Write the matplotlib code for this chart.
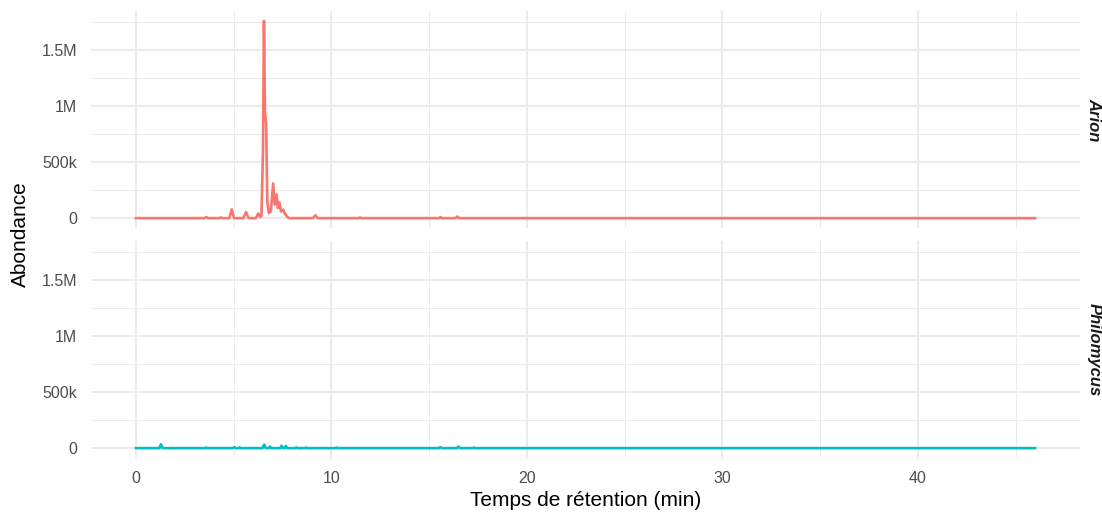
import numpy as np
import matplotlib
matplotlib.use("Agg")
import matplotlib.pyplot as plt
from matplotlib.ticker import MultipleLocator, FixedLocator

plt.rcParams["font.family"] = ["Liberation Sans", "DejaVu Sans"]

# ---------- chromatogram traces (time in min, abundance in counts) ----------
arion_t = [0, 3.5, 3.6, 3.7, 4.25, 4.33, 4.4, 4.78, 4.9, 5.02, 5.5, 5.63, 5.76,
           6.14, 6.26, 6.36, 6.42, 6.5, 6.55, 6.6, 6.66, 6.72, 6.8, 6.9, 7.02,
           7.1, 7.2, 7.26, 7.33, 7.42, 7.53, 7.62, 7.7, 7.82, 9.05, 9.18, 9.3,
           11.4, 11.46, 11.52, 15.5, 15.58, 15.66, 16.36, 16.44, 16.52, 46]
arion_k = [0, 0, 10, 0, 0, 6, 0, 0, 78, 0, 0, 55, 0,
           0, 42, 10, 20, 600, 1760, 950, 850, 150, 45, 60, 310,
           120, 210, 90, 140, 60, 75, 40, 20, 0, 0, 25, 0,
           0, 5, 0, 0, 10, 0, 0, 15, 0, 0]

philo_t = [0, 1.2, 1.28, 1.36, 3.55, 3.6, 3.65, 4.95, 5.02, 5.1, 5.25, 5.3, 5.35,
           6.48, 6.56, 6.64, 6.8, 6.86, 6.92, 7.38, 7.45, 7.52, 7.6, 7.67, 7.74,
           8.15, 8.2, 8.25, 8.65, 8.7, 8.75, 10.2, 10.27, 10.34, 15.5, 15.58, 15.66,
           16.42, 16.5, 16.58, 17.25, 17.3, 17.35, 46]
philo_k = [0, 0, 35, 0, 0, 5, 0, 0, 8, 0, 0, 6, 0,
           0, 32, 0, 0, 15, 0, 0, 22, 0, 0, 20, 0,
           0, 6, 0, 0, 5, 0, 0, 5, 0, 0, 8, 0,
           0, 14, 0, 0, 5, 0, 0]

species = ["Arion", "Philomycus"]
colors = ["#F8766D", "#00BFC4"]

y_ticks = [0, 500000, 1000000, 1500000]
y_labels = ["0", "500k", "1M", "1.5M"]
x_ticks = [0, 10, 20, 30, 40]

traces = [(np.array(arion_t), np.array(arion_k) * 1000.0),
          (np.array(philo_t), np.array(philo_k) * 1000.0)]

# shared scales with 5% expansion on each side
tmin = min(t.min() for t, _ in traces)
tmax = max(t.max() for t, _ in traces)
amin = min(a.min() for _, a in traces)
amax = max(a.max() for _, a in traces)
dx = (tmax - tmin) * 0.05
dy = (amax - amin) * 0.05

W, H = 1102, 517
fig = plt.figure(figsize=(W / 100, H / 100), dpi=100)
fig.patch.set_facecolor("white")

panels = [(11, 228), (241, 458)]  # top / bottom pixel rows of each panel
left, right = 91, 1080

for i, ((top, bot), name, col, (t, a)) in enumerate(zip(panels, species, colors, traces)):
    ax = fig.add_axes([left / W, (H - bot) / H, (right - left) / W, (bot - top) / H])
    ax.set_xlim(tmin - dx, tmax + dx)
    ax.set_ylim(amin - dy, amax + dy)

    ax.xaxis.set_major_locator(FixedLocator(x_ticks))
    ax.xaxis.set_minor_locator(MultipleLocator(5))
    ax.yaxis.set_major_locator(FixedLocator(y_ticks))
    ax.yaxis.set_minor_locator(FixedLocator([250000, 750000, 1250000, 1750000]))
    ax.set_yticklabels(y_labels)

    ax.grid(which="major", color="#EBEBEB", lw=1.5)
    ax.grid(which="minor", color="#EBEBEB", lw=0.75)
    ax.set_axisbelow(True)
    for s in ax.spines.values():
        s.set_visible(False)
    ax.tick_params(which="both", length=0)
    ax.tick_params(axis="y", labelsize=11.5, labelcolor="#4D4D4D", pad=10)
    ax.tick_params(axis="x", labelsize=11.5, labelcolor="#4D4D4D", pad=9.5)

    ax.plot(t, a, color=col, lw=1.9, solid_joinstyle="round")

    ax.text(1.0 + 14 / (right - left), 0.5, name, transform=ax.transAxes,
            rotation=-90, ha="center", va="center", fontsize=12,
            fontweight="bold", fontstyle="italic", color="#1A1A1A")
    if i == 0:
        ax.tick_params(axis="x", labelbottom=False)

fig.text(20 / W, 1 - ((panels[0][0] + panels[1][1]) / 2) / H, "Abondance",
         rotation=90, ha="center", va="center", fontsize=15, color="black")
fig.text(586 / W, 1 - 501 / H, "Temps de rétention (min)",
         ha="center", va="center", fontsize=15, color="black")

fig.savefig("out.png", dpi=100, facecolor="white")
